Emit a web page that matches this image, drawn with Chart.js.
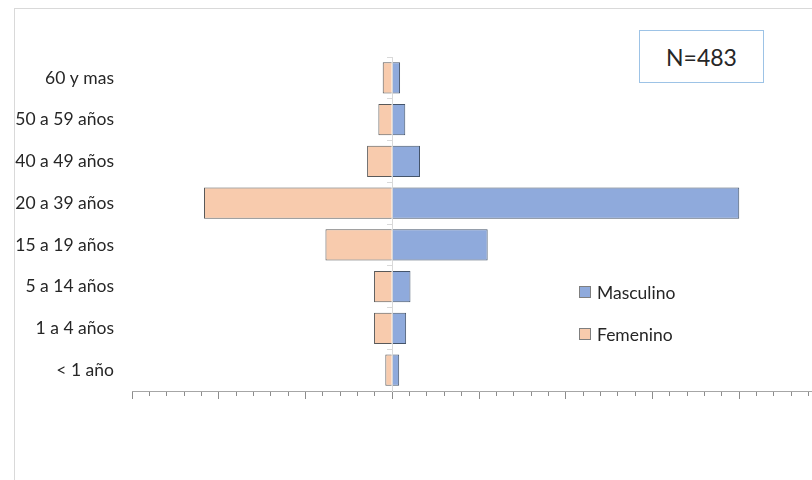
<!DOCTYPE html>
<html>
<head>
<meta charset="utf-8">
<script src="https://cdn.jsdelivr.net/npm/chart.js@4"></script>
<style>
    html, body { margin: 0; padding: 0; background: #fff; }
    #wrap { position: relative; width: 812px; height: 480px; overflow: hidden; font-family: Lato, sans-serif; }
    #frame { position: absolute; left: 14px; top: 8px; width: 1000px; height: 700px; border: 1px solid #d9d9d9; }
    #chartBox { position: absolute; left: 0; top: 0; width: 840px; height: 480px; }
    #nBox {
        position: absolute; left: 639px; top: 30px; width: 123px; height: 51px;
        border: 1px solid #9dc3e6; background: #fff;
        display: flex; align-items: center; justify-content: center;
        font-size: 23px; color: #262626;
    }
    .legend { position: absolute; left: 579px; font-size: 17.5px; color: #262626; display: flex; align-items: center; height: 20px; }
    .legend span.sw { display: inline-block; width: 10px; height: 10px; margin-right: 6px; border: 1px solid #7f7f7f; }
</style>
</head>
<body>
<div id="wrap">
    <div id="frame"></div>
    <div id="chartBox"><canvas id="pyramid" width="840" height="480"></canvas></div>
    <div id="nBox">N=483</div>
    <div class="legend" style="top:282px"><span class="sw" style="background:#8faadc"></span>Masculino</div>
    <div class="legend" style="top:324px"><span class="sw" style="background:#f8cbad"></span>Femenino</div>
</div>
<script>
// Age groups, top to bottom
const ageGroups = ['60 y mas', '50 a 59 años', '40 a 49 años', '20 a 39 años',
    '15 a 19 años', '5 a 14 años', '1 a 4 años', '< 1 año'];

// Percent of total
const masculino = [0.9, 1.5, 3.2, 40.0, 11.0, 2.1, 1.6, 0.8];
const femenino = [1.1, 1.6, 2.9, 21.7, 7.7, 2.1, 2.1, 0.8];

// x axis range (percent), ticks every 2, longer mark every 10
const xMin = -30;
const xMax = 50;
const xStep = 2;
const xMajor = 10;

const labelFont = { family: 'Lato', size: 17.5 };

new Chart(document.getElementById('pyramid'), {
    type: 'bar',
    data: {
        labels: ageGroups,
        datasets: [{
            label: 'Masculino',
            data: masculino,
            backgroundColor: '#8faadc',
            borderColor: '#44546a',
            borderWidth: 1,
        }, {
            label: 'Femenino',
            data: femenino.map(v => -v),
            backgroundColor: '#f8cbad',
            borderColor: '#595959',
            borderWidth: 1,
        }],
    },
    options: {
        indexAxis: 'y',
        responsive: false,
        animation: false,
        layout: {
            padding: { top: 57, bottom: 80, left: 0, right: 14 },
        },
        datasets: {
            bar: {
                categoryPercentage: 1,
                barPercentage: 0.75,
            },
        },
        scales: {
            x: {
                type: 'linear',
                stacked: true,
                min: xMin,
                max: xMax,
                ticks: { display: false, stepSize: xStep },
                grid: {
                    drawOnChartArea: false,
                    tickLength: 8,
                    tickColor: '#8c8c8c',
                    tickBorderDash: (ctx) => (ctx.tick && ctx.tick.value % xMajor === 0) ? [] : [4, 20],
                },
                border: { color: '#a6a6a6' },
                afterFit: (scale) => { scale.height = 9; },
            },
            y: {
                type: 'category',
                stacked: true,
                position: 'left',
                grid: { display: false, drawTicks: false },
                border: { display: false },
                ticks: { color: '#262626', font: labelFont, padding: 18 },
                afterFit: (scale) => { scale.width = 132; },
            },
            // thin axis line at zero with its tick marks
            yZero: {
                type: 'category',
                position: { x: 0 },
                offset: true,
                z: 1,
                ticks: { display: false },
                grid: {
                    offset: true,
                    drawOnChartArea: false,
                    tickLength: 5,
                    color: '#d9d9d9',
                },
                border: { color: '#d9d9d9' },
                afterFit: (scale) => { scale.width = 0; },
            },
        },
        plugins: {
            legend: { display: false },
            tooltip: { enabled: false },
        },
    },
});
</script>
</body>
</html>
